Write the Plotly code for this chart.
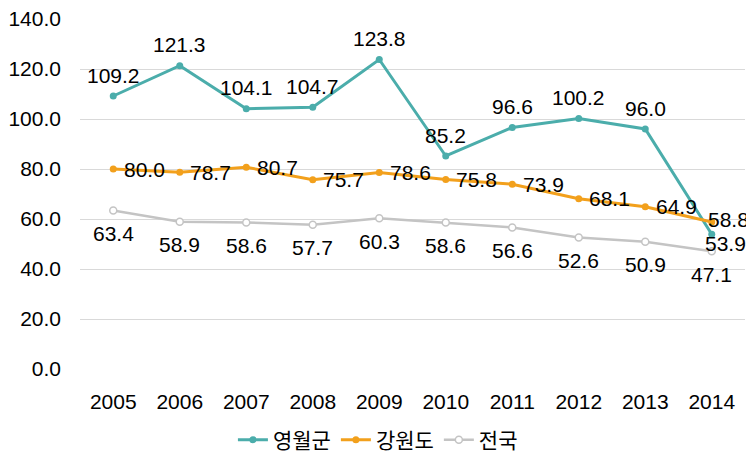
import plotly.graph_objects as go

years = ["2005", "2006", "2007", "2008", "2009", "2010", "2011", "2012", "2013", "2014"]
yeongwol = [109.2, 121.3, 104.1, 104.7, 123.8, 85.2, 96.6, 100.2, 96.0, 53.9]
gangwon = [80.0, 78.7, 80.7, 75.7, 78.6, 75.8, 73.9, 68.1, 64.9, 58.8]
national = [63.4, 58.9, 58.6, 57.7, 60.3, 58.6, 56.6, 52.6, 50.9, 47.1]
y_ticks = [0, 20, 40, 60, 80, 100, 120, 140]

TEAL = "#4BADAB"
ORANGE = "#F2A01C"
GRAY = "#C4C4C4"
FONT = "Arial, Liberation Sans, Noto Sans CJK KR, sans-serif"
FS = 21

fig = go.Figure()
fig.add_trace(go.Scatter(x=years, y=yeongwol, name="영월군", mode="lines+markers",
                         line=dict(color=TEAL, width=3),
                         marker=dict(color=TEAL, size=7)))
fig.add_trace(go.Scatter(x=years, y=gangwon, name="강원도", mode="lines+markers",
                         line=dict(color=ORANGE, width=3),
                         marker=dict(color=ORANGE, size=7)))
fig.add_trace(go.Scatter(x=years, y=national, name="전국", mode="lines+markers",
                         line=dict(color=GRAY, width=2.5),
                         marker=dict(color="white", size=7, line=dict(color=GRAY, width=1.5))))

n = len(years)
for i in range(n):
    v = yeongwol[i]
    if i == n - 1:
        xs, ys = 14, -9
    else:
        xs, ys = 0, 21
    fig.add_annotation(x=i, y=v, xref="x", yref="y", text="%.1f" % v, showarrow=False,
                       xshift=xs, yshift=ys, font=dict(size=FS, color="black"))
for i in range(n):
    v = gangwon[i]
    if i == n - 1:
        xs, ys = 17, 3
    else:
        xs, ys = 31, 0
    fig.add_annotation(x=i, y=v, xref="x", yref="y", text="%.1f" % v, showarrow=False,
                       xshift=xs, yshift=ys, font=dict(size=FS, color="black"))
for i in range(n):
    v = national[i]
    fig.add_annotation(x=i, y=v, xref="x", yref="y", text="%.1f" % v, showarrow=False,
                       xshift=0, yshift=-23, font=dict(size=FS, color="black"))

fig.update_layout(
    width=746, height=465, autosize=False,
    margin=dict(l=72, r=9, t=11, b=104, autoexpand=False),
    paper_bgcolor="white", plot_bgcolor="white",
    font=dict(family=FONT, size=FS, color="#000000"),
    showlegend=True,
    legend=dict(orientation="h", x=0.448, xanchor="center",
                y=-0.203, yanchor="middle", font=dict(size=FS, family=FONT),
                traceorder="normal", bgcolor="rgba(0,0,0,0)"),
)
fig.update_xaxes(type="category", range=[-0.5, 9.5], showgrid=False, showline=False,
                 zeroline=False, ticks="", tickangle=0, automargin=False,
                 ticklabelstandoff=18, ticklabeloverflow="allow",
                 tickfont=dict(size=FS, family=FONT))
fig.update_yaxes(range=[0, 140], tickvals=y_ticks, ticktext=["%.1f" % t for t in y_ticks],
                 showgrid=True, gridcolor="#D9D9D9", gridwidth=1, zeroline=False,
                 showline=False, ticks="", automargin=False, ticklabelstandoff=18,
                 ticklabeloverflow="allow", tickfont=dict(size=FS, family=FONT))

fig.write_html("out.html")
